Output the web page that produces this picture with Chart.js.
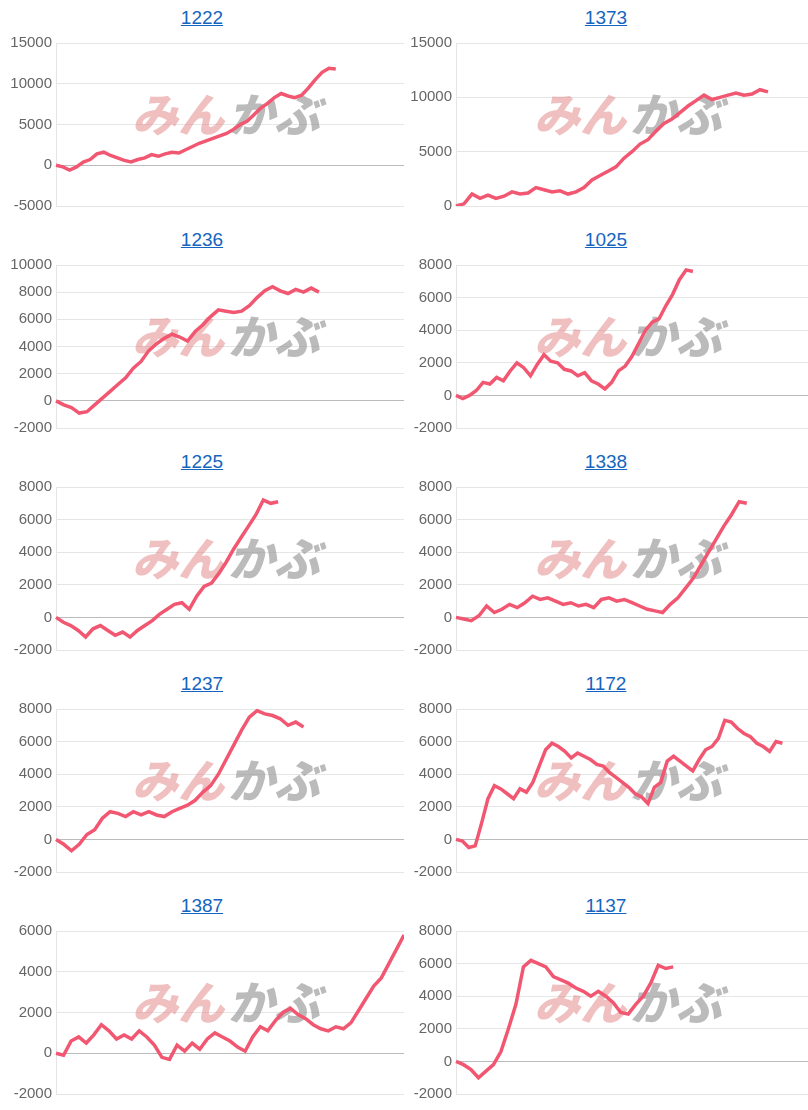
<!DOCTYPE html>
<html>
<head>
<meta charset="utf-8">
<script src="https://cdn.jsdelivr.net/npm/chart.js@4"></script>
<style>
  body { margin: 0; background: #fff; font-family: "Liberation Sans", Arial, sans-serif; }
  #grid { display: grid; grid-template-columns: 404px 404px; }
  .panel { width: 404px; height: 222px; position: relative; }
  .panel a { position: absolute; top: 7px; left: 0; width: 100%; text-align: center;
             color: #1565c0; font-size: 19px; text-decoration: underline; }
  .panel canvas { position: absolute; top: 30px; left: 0; }
</style>
</head>
<body>
<div id="grid"></div>
<script>
// chart codes, in page order
var codes = ['1222', '1373', '1236', '1025', '1225', '1338', '1237', '1172', '1387', '1137'];

// cumulative values per chart
var s1222 = [0,-200,-600,-200,400,700,1400,1600,1200,900,600,400,700,900,1300,1100,1400,1600,1500,1900,2300,2700,3000,3300,3600,3900,4400,5000,5400,6200,7000,7600,8300,8800,8500,8300,8600,9500,10500,11400,11900,11800];
var s1373 = [0,200,1100,700,1000,700,900,1300,1100,1200,1700,1500,1300,1400,1100,1300,1700,2400,2800,3200,3600,4400,5000,5700,6100,6900,7600,8000,8600,9200,9700,10200,9800,10000,10200,10400,10200,10300,10700,10500];
var s1236 = [0,-300,-500,-900,-800,-300,200,700,1200,1700,2400,2900,3700,4200,4600,4900,4700,4400,5100,5600,6200,6700,6600,6500,6600,7000,7600,8100,8400,8100,7900,8200,8000,8300,8000];
var s1025 = [0,-200,0,300,800,700,1100,900,1500,2000,1700,1200,1900,2500,2100,2000,1600,1500,1200,1400,900,700,400,800,1500,1800,2400,3200,4000,4500,4700,5500,6200,7100,7700,7600];
var s1225 = [0,-300,-500,-800,-1200,-700,-500,-800,-1100,-900,-1200,-800,-500,-200,200,500,800,900,500,1300,1900,2100,2700,3400,4200,4900,5600,6300,7200,7000,7100];
var s1338 = [0,-100,-200,100,700,300,500,800,600,900,1300,1100,1200,1000,800,900,700,800,600,1100,1200,1000,1100,900,700,500,400,300,800,1200,1800,2400,3200,4000,4800,5600,6300,7100,7000];
var s1237 = [0,-300,-700,-300,300,600,1300,1700,1600,1400,1700,1500,1700,1500,1400,1700,1900,2100,2400,2900,3300,4000,4900,5800,6700,7500,7900,7700,7600,7400,7000,7200,6900];
var s1172 = [0,-100,-500,-400,1000,2500,3300,3100,2800,2500,3100,2900,3500,4500,5500,5900,5700,5400,5000,5300,5100,4900,4600,4500,4100,3800,3500,3200,2800,2600,2200,3200,3500,4800,5100,4800,4500,4200,4900,5500,5700,6200,7300,7200,6800,6500,6300,5900,5700,5400,6000,5900];
var s1387 = [0,-100,600,800,500,900,1400,1100,700,900,700,1100,800,400,-200,-300,400,100,500,200,700,1000,800,600,300,100,800,1300,1100,1600,2000,2200,1900,1700,1400,1200,1100,1300,1200,1500,2100,2700,3300,3700,4400,5100,5800];
var s1137 = [0,-200,-500,-1000,-600,-200,600,2000,3500,5800,6200,6000,5800,5200,5000,4800,4500,4300,4000,4300,4000,3600,3000,2900,3500,4000,4800,5900,5700,5800];

var series = [s1222, s1373, s1236, s1025, s1225, s1338, s1237, s1172, s1387, s1137];
// number of x slots per chart (line only fills part of the width)
var slots = [52, 45, 46, 53, 48, 47, 46, 56, 47, 48];
// y axis min / max / step
var yMin = [-5000, 0, -2000, -2000, -2000, -2000, -2000, -2000, -2000, -2000];
var yMax = [15000, 15000, 10000, 8000, 8000, 8000, 8000, 8000, 6000, 8000];
var yStep = [5000, 5000, 2000, 2000, 2000, 2000, 2000, 2000, 2000, 2000];

var watermark = {
    id: 'watermark',
    beforeDatasetsDraw: function(chart) {
        var ctx = chart.ctx, a = chart.chartArea;
        var cx = (a.left + a.right) / 2 - 6, cy = (a.top + a.bottom) / 2 - 10;
        ctx.save();
        ctx.font = 'italic 900 46px "Noto Sans CJK JP"';
        ctx.textBaseline = 'middle';
        ctx.fillStyle = 'rgba(225,130,130,0.5)';
        ctx.textAlign = 'right';
        ctx.fillText('みん', cx, cy);
        ctx.fillStyle = 'rgba(150,150,150,0.65)';
        ctx.textAlign = 'left';
        ctx.fillText('かぶ', cx + 4, cy);
        ctx.restore();
    }
};

var grid = document.getElementById('grid');
codes.forEach(function(code, i) {
    var panel = document.createElement('div');
    panel.className = 'panel';
    panel.innerHTML = '<a href="#">' + code + '</a><canvas width="404" height="190"></canvas>';
    grid.appendChild(panel);

    var labels = [];
    for (var k = 0; k < slots[i]; k++) labels.push('');

    new Chart(panel.querySelector('canvas'), {
        type: 'line',
        data: {
            labels: labels,
            datasets: [{
                data: series[i],
                borderColor: '#f25772',
                borderWidth: 3.5,
                pointRadius: 0,
                tension: 0
            }]
        },
        options: {
            responsive: false,
            animation: false,
            layout: { padding: { top: 10, bottom: 14, right: 0 } },
            plugins: { legend: { display: false }, tooltip: { enabled: false } },
            scales: {
                x: {
                    offset: false,
                    grid: { display: false, drawTicks: false },
                    border: { color: '#e5e5e5' },
                    ticks: { display: false }
                },
                y: {
                    min: yMin[i], max: yMax[i],
                    afterFit: function(s) { s.width = i % 2 ? 52 : 56; },
                    ticks: {
                        stepSize: yStep[i], color: '#666', padding: 4,
                        font: { size: 15, family: '"Liberation Sans", Arial' },
                        callback: function(v) { return String(v); }
                    },
                    border: { display: true, color: '#e5e5e5' },
                    grid: {
                        drawTicks: false,
                        color: function(c) { return c.tick && c.tick.value === 0 ? '#bbb' : '#e6e6e6'; }
                    }
                }
            }
        },
        plugins: [watermark]
    });
});
</script>
</body>
</html>
